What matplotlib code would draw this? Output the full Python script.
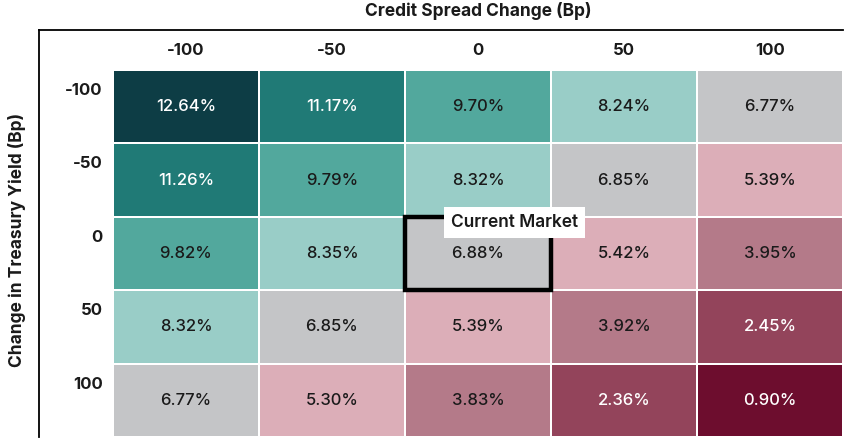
import numpy as np
import matplotlib
matplotlib.use("Agg")
import matplotlib.pyplot as plt
from matplotlib.colors import ListedColormap, BoundaryNorm
from matplotlib.lines import Line2D
from matplotlib.patches import Rectangle

plt.rcParams['font.family'] = ['Inter', 'DejaVu Sans']

# data
spread_change = ['-100', '-50', '0', '50', '100']
yield_change = ['-100', '-50', '0', '50', '100']
returns = np.array([
    [12.64, 11.17, 9.70, 8.24, 6.77],
    [11.26, 9.79, 8.32, 6.85, 5.39],
    [9.82, 8.35, 6.88, 5.42, 3.95],
    [8.32, 6.85, 5.39, 3.92, 2.45],
    [6.77, 5.30, 3.83, 2.36, 0.90],
])
current = (2, 2)

bin_edges = [0, 1.5, 3.0, 4.5, 6.0, 7.5, 9.0, 10.5, 12.0, 14.0]
bin_colors = ['#6d0d2e', '#93445b', '#b47a89', '#dcaeb8', '#c4c5c7',
              '#99cdc7', '#52a89d', '#207a76', '#0d3d45']
cmap = ListedColormap(bin_colors)
norm = BoundaryNorm(bin_edges, cmap.N)

fig = plt.figure(figsize=(8.56, 4.45), dpi=100)
ax = fig.add_axes([113 / 856, 8 / 445, 730 / 856, 367 / 445])

nr, nc = returns.shape
ax.pcolormesh(np.arange(nc + 1), np.arange(nr + 1), returns, cmap=cmap, norm=norm,
              edgecolor='white', linewidth=1.2)
ax.set_xlim(0, nc)
ax.set_ylim(nr, 0)

for i in range(nr):
    for j in range(nc):
        v = returns[i, j]
        col = 'white' if (v > 10.5 or v < 3.0) else '#1a1a1a'
        ax.text(j + 0.5, i + 0.5, f'{v:.2f}%', ha='center', va='center',
                fontsize=12, color=col, fontweight='medium')

# current market highlight
r, c = current
ax.add_patch(Rectangle((c, r), 1, 1, fill=False, edgecolor='black', linewidth=3.2,
                       zorder=5, clip_on=False))
ax.text(c + 0.75, r + 0.08, 'Current Market', ha='center', va='center', fontsize=12.5,
        fontweight='semibold', color='#1a1a1a', zorder=6,
        bbox=dict(boxstyle='square,pad=0.42', facecolor='white', edgecolor='none'))

for sp in ax.spines.values():
    sp.set_visible(False)
ax.set_xticks([])
ax.set_yticks([])

# column labels
for j, lab in enumerate(spread_change):
    ax.text(j + 0.5, -0.27, lab, ha='center', va='center', fontsize=12,
            fontweight='bold', color='#1a1a1a')
# row labels
for i, lab in enumerate(yield_change):
    ax.text(-0.07, i + 0.28, lab, ha='right', va='center', fontsize=12,
            fontweight='bold', color='#1a1a1a')

# frame lines
y_top = 1 - 30 / 445
x_left = 39 / 856
fig.add_artist(Line2D([x_left, 843 / 856], [y_top, y_top], color='black', linewidth=1.3))
fig.add_artist(Line2D([x_left, x_left], [y_top, 8 / 445], color='black', linewidth=1.3))

fig.text(478 / 856, 1 - 11 / 445, 'Credit Spread Change (Bp)', ha='center', va='center',
         fontsize=12.5, fontweight='bold', color='#1a1a1a')
fig.text(17 / 856, 1 - 240 / 445, 'Change in Treasury Yield (Bp)', ha='center', va='center',
         rotation=90, fontsize=12.5, fontweight='bold', color='#1a1a1a')

fig.savefig('out.png', dpi=100)
